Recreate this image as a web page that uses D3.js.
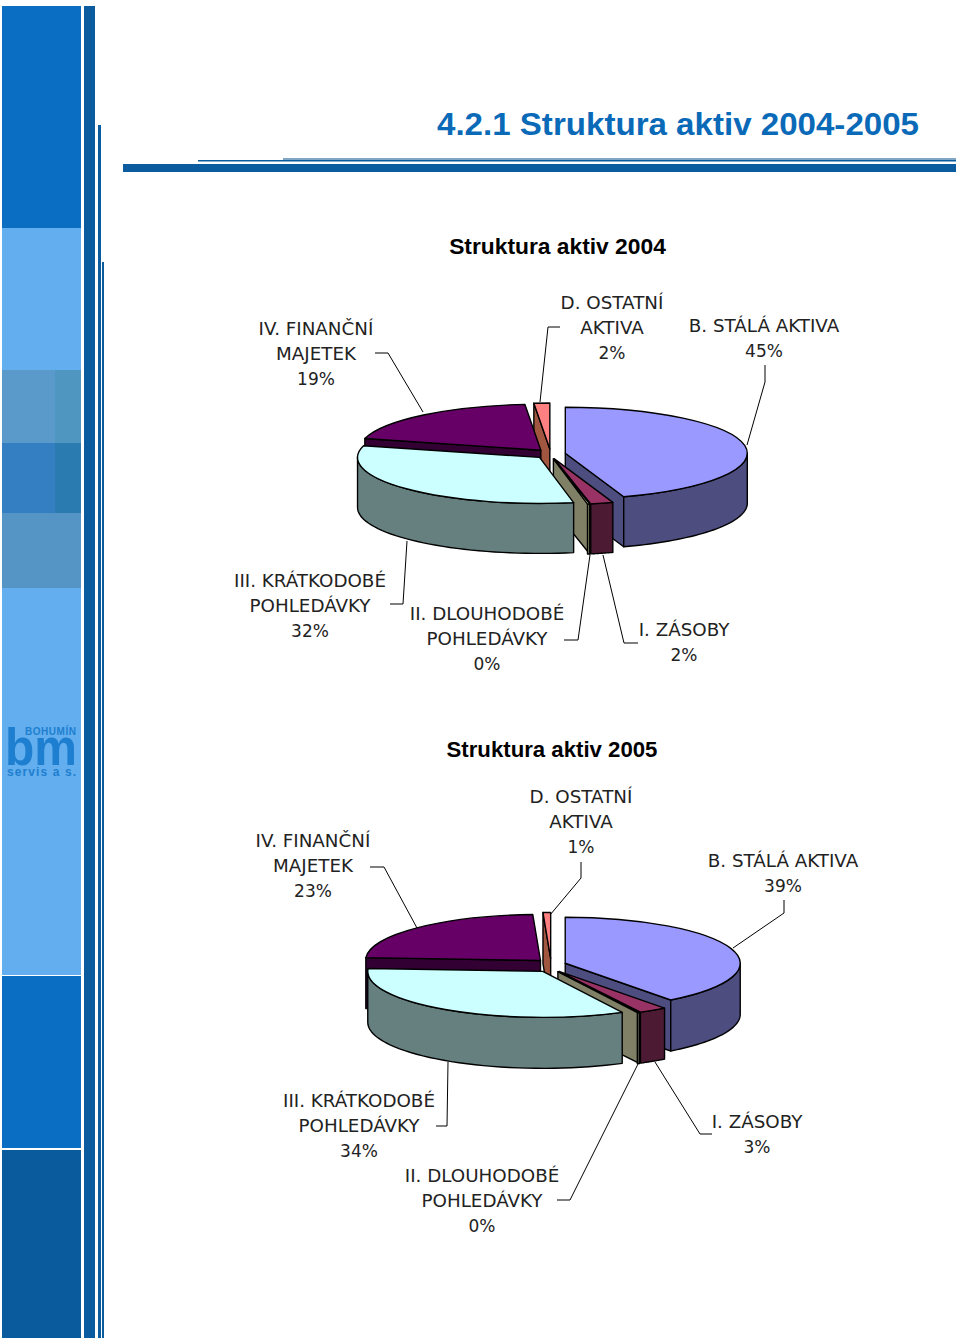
<!DOCTYPE html>
<html><head><meta charset="utf-8">
<script src="https://cdn.jsdelivr.net/npm/d3@7"></script>
<style>html,body{margin:0;padding:0;background:#fff}svg{display:block}</style>
</head><body><svg id="c" width="960" height="1344"></svg>
<script>
// ---- data ----
const categories = ["B. STÁLÁ AKTIVA","I. ZÁSOBY","II. DLOUHODOBÉ POHLEDÁVKY","III. KRÁTKODOBÉ POHLEDÁVKY","IV. FINANČNÍ MAJETEK","D. OSTATNÍ AKTIVA"];
const values2004 = [44.8,2.0,0.2,32.1,19.5,1.4];
const values2005 = [39.7,2.6,0.2,33.5,23.3,0.7];
const labels2004 = ["45%","2%","0%","32%","19%","2%"];
const labels2005 = ["39%","3%","0%","34%","23%","1%"];
const titleMain = "4.2.1 Struktura aktiv 2004-2005";
const title2004 = "Struktura aktiv 2004";
const title2005 = "Struktura aktiv 2005";

// ---- styles & layout ----
const topColors = ["#9999FF","#993366","#FFFFCC","#CCFFFF","#660066","#FF8080"];
const sideColors = ["#4D4D80","#4D1A33","#808066","#668080","#330033","#A0563F"];
// which cut face of each slice is visible: "end", "start" or none
const faces = ["end",null,"start",null,"start","start"];
const paintOrder = [5,4,0,1,2,3];

const pies = [
 {values:values2004,pct:labels2004,title:title2004,tx:557.5,ty:254,ts:22.8,cx:550.5,cy:454,rx:182,ry:46,depth:50,ex:15,ey:5,
  labels:[[764,332,["B. STÁLÁ AKTIVA"]],[684,636,["I. ZÁSOBY"]],[487,620,["II. DLOUHODOBÉ","POHLEDÁVKY"]],[310,587,["III. KRÁTKODOBÉ","POHLEDÁVKY"]],[316,335,["IV. FINANČNÍ","MAJETEK"]],[612,309,["D. OSTATNÍ","AKTIVA"]]],
  leaders:[[[765,365],[765,382],[747,445]],[[603,555],[624,643],[638,643]],[[590,555],[578,640],[564,640]],[[407,541],[403,604],[390,604]],[[375,353],[388,353],[423,412]],[[540,402],[548,327],[560,327]]]},
 {values:values2005,pct:labels2005,title:title2005,tx:552,ty:757,ts:22.2,cx:551,cy:965.5,rx:175,ry:46,depth:51,ex:15,ey:7,
  labels:[[783,867,["B. STÁLÁ AKTIVA"]],[757,1128,["I. ZÁSOBY"]],[482,1182,["II. DLOUHODOBÉ","POHLEDÁVKY"]],[359,1107,["III. KRÁTKODOBÉ","POHLEDÁVKY"]],[313,847,["IV. FINANČNÍ","MAJETEK"]],[581,803,["D. OSTATNÍ","AKTIVA"]]],
  leaders:[[[784,900],[784,913],[733,948]],[[655,1062],[700,1134],[712,1134]],[[638,1064],[570,1200],[557,1200]],[[448,1062],[447,1126],[436,1126]],[[370,867],[384,867],[417,928]],[[550,915],[581,878],[581,862]]]}
];
const sidebar = [
 [2,6,79,222,"#0A6FC2"],[2,228,79,142,"#62AEEE"],[2,370,53,73,"#5A9ACB"],[55,370,26,73,"#4F97C0"],
 [2,443,53,70,"#337FC2"],[55,443,26,70,"#2A7CB0"],[2,513,79,75,"#5495C6"],[2,588,79,387,"#62AEEE"],
 [2,976,79,172,"#0A6FC2"],[2,1150,79,188,"#0A5A9E"],[84,6,11,1332,"#0B5C9E"],[98,125,3,1213,"#0B5C9E"],[102,262,2,1076,"#0B5C9E"]
];
const rules = [[123,164,833,8,"#0B5C9E"],[198,160,758,1.5,"#0B5C9E"],[283,158,673,2,"#7FA6C4"]];

const svg = d3.select("#c");
svg.append("g").selectAll("rect").data(sidebar.concat(rules)).join("rect")
  .attr("x",d=>d[0]).attr("y",d=>d[1]).attr("width",d=>d[2]).attr("height",d=>d[3]).attr("fill",d=>d[4]);

// logo
const logo = svg.append("g").attr("fill","#1E7FD0");
logo.append("text").attr("x",25).attr("y",735).attr("font-family","Liberation Sans").attr("font-weight","bold").attr("font-size",10).attr("textLength",51).text("BOHUMÍN");
logo.append("text").attr("x",5).attr("y",765).attr("font-family","Liberation Sans").attr("font-weight","bold").attr("font-size",52).attr("textLength",72).attr("lengthAdjust","spacingAndGlyphs").text("bm");
logo.append("text").attr("x",7).attr("y",776).attr("font-family","Liberation Sans").attr("font-weight","bold").attr("font-size",12).attr("textLength",69).text("servis a s.");

svg.append("text").attr("x",437).attr("y",135).attr("fill","#0A6AB8").attr("font-family","Liberation Sans").attr("font-weight","bold").attr("font-size",31).attr("textLength",482).attr("lengthAdjust","spacingAndGlyphs").text(titleMain);

function drawPie(p){
  const g = svg.append("g");
  const arcs = d3.pie().sort(null)(p.values);
  const arc = d3.arc().innerRadius(0).outerRadius(p.rx);
  const k = p.ry/p.rx;
  const apex = a=>{const m=(a.startAngle+a.endAngle)/2;return [p.cx+p.ex*Math.sin(m),p.cy-p.ey*Math.cos(m)];};
  const rim = (a,t)=>{const c=apex(a);return [c[0]+p.rx*Math.sin(t),c[1]-p.ry*Math.cos(t)];};
  const line = d3.line();
  paintOrder.forEach(i=>{
    const a = arcs[i], c = apex(a);
    const ps = g.append("g").attr("stroke","#000").attr("stroke-width",1.4).attr("stroke-linejoin","round");
    // cut face
    if(faces[i]){
      const t = faces[i]==="start"?a.startAngle:a.endAngle, r=rim(a,t);
      ps.append("path").attr("fill",sideColors[i])
        .attr("d",line([c,r,[r[0],r[1]+p.depth],[c[0],c[1]+p.depth]])+"Z");
    }
    // outer wall: the part of the rim on the front half
    const t0=Math.max(a.startAngle,Math.PI/2), t1=Math.min(a.endAngle,3*Math.PI/2);
    if(t1>t0){
      const ts=d3.range(0,41).map(j=>t0+(t1-t0)*j/40);
      const upper=ts.map(t=>rim(a,t));
      const lower=upper.map(q=>[q[0],q[1]+p.depth]).reverse();
      ps.append("path").attr("fill",sideColors[i]).attr("d",line(upper.concat(lower))+"Z");
    }
    // top surface
    ps.append("path").attr("transform",`translate(${c[0]},${c[1]}) scale(1,${k})`)
      .attr("vector-effect","non-scaling-stroke").attr("fill",topColors[i]).attr("d",arc(a));
  });
  // leaders
  g.append("g").selectAll("path").data(p.leaders).join("path")
    .attr("fill","none").attr("stroke","#000").attr("stroke-width",1).attr("d",d=>line(d));
  // chart title
  g.append("text").attr("x",p.tx).attr("y",p.ty).attr("text-anchor","middle")
    .attr("font-family","Liberation Sans").attr("font-weight","bold").attr("font-size",p.ts).text(p.title);
  // labels
  p.labels.forEach((l,i)=>{
    const t=g.append("text").attr("x",l[0]).attr("y",l[1]).attr("text-anchor","middle")
      .attr("font-family","DejaVu Sans").attr("font-size",18.3).attr("fill","#222");
    l[2].forEach((s,j)=>t.append("tspan").attr("x",l[0]).attr("dy",j?25:0).text(s));
    t.append("tspan").attr("x",l[0]).attr("dy",25).attr("font-size",17).text(p.pct[i]);
  });
}
pies.forEach(drawPie);
</script></body></html>
